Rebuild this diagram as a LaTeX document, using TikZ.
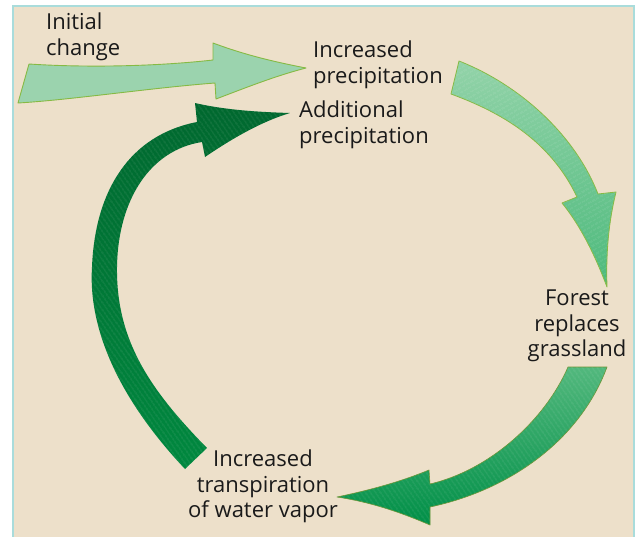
\documentclass[tikz,border=0pt]{standalone}
\usepackage{fontspec}
\setmainfont{Open Sans}
\usetikzlibrary{patterns.meta}
\definecolor{bg}{HTML}{EDE0CA}
\definecolor{frame}{HTML}{A9DCDB}
\definecolor{edge}{HTML}{86BA44}
\definecolor{aone}{HTML}{9BD3AE}
\definecolor{atwoT}{HTML}{93D3A9}
\definecolor{atwoB}{HTML}{4CBA7C}
\definecolor{athreeT}{HTML}{52B87D}
\definecolor{athreeB}{HTML}{008F47}
\definecolor{afourB}{HTML}{00883F}
\definecolor{afourT}{HTML}{00682F}
\definecolor{txt}{HTML}{1A1A1A}
\begin{document}
\begin{tikzpicture}[x=1pt,y=-1pt,
  lbl/.style={font=\fontsize{22}{25.5}\selectfont, inner sep=0pt, text=txt},
  stripesA/.style={postaction={pattern={Lines[angle=30,distance=4pt,line width=0.6pt]}, pattern color=white, fill opacity=0.18}},
  stripesB/.style={postaction={pattern={Lines[angle=-55,distance=4pt,line width=0.6pt]}, pattern color=white, fill opacity=0.18}}]
\useasboundingbox (0,0) rectangle (640,536);
\fill[white] (0,0) rectangle (640,536);
\draw[frame, line width=2pt, fill=bg] (13,6) rectangle (634,545);

% Arrow 1: initial change
\path[fill=aone, draw=edge, line width=0.9pt, line join=round]
  (18,103) -- (29,64) .. controls (90,68) and (160,66) .. (213,60) -- (213,43)
  .. controls (245,55) and (275,62) .. (306,68)
  .. controls (275,76) and (245,88) .. (216,99) -- (215,83)
  .. controls (150,88) and (70,100) .. cycle;

% Arrow 2: precipitation -> forest
\path[top color=atwoT, bottom color=atwoB, draw=edge, line width=0.8pt, line join=round, stripesA]
  (459,61) .. controls (520,85) and (575,135) .. (598,194) -- (616,192)
  .. controls (608,225) and (606,255) .. (607,287)
  .. controls (595,255) and (580,225) .. (562,203) -- (577,197)
  .. controls (550,140) and (500,112) .. (451,94) -- cycle;

% Arrow 3: forest -> transpiration
\path[top color=athreeT, bottom color=athreeB, draw=edge!80!black, line width=0.6pt, line join=round, stripesB]
  (568,367) -- (607,367) .. controls (580,440) and (510,490) .. (430,507) -- (430,525)
  .. controls (400,512) and (370,502) .. (337,497)
  .. controls (370,490) and (400,482) .. (429,470) -- (430,484)
  .. controls (490,470) and (545,420) .. cycle;

% Arrow 4: transpiration -> additional precipitation
\path[top color=afourT, bottom color=afourB, stripesB]
  (207,448) -- (185,469) .. controls (120,400) and (88,330) .. (92,267)
  .. controls (95,190) and (130,135) .. (197,122) -- (195,103)
  .. controls (225,110) and (258,112) .. (290,113)
  .. controls (260,122) and (230,140) .. (205,157) -- (202,142)
  .. controls (150,150) and (118,200) .. (117,267)
  .. controls (116,340) and (150,390) .. cycle;

\node[lbl, anchor=north west, align=left] (init) at (46,13) {Initial\\change};
\node[lbl, anchor=north west, align=left] (incp) at (313,41) {Increased\\precipitation};
\node[lbl, anchor=north west, align=left] (addp) at (299,101) {Additional\\precipitation};
\node[lbl, anchor=north, align=center] (forest) at (577,290) {Forest\\replaces\\grassland};
\node[lbl, anchor=north, align=center] (trans) at (263,450) {Increased\\transpiration\\of water vapor};
\end{tikzpicture}
\end{document}
